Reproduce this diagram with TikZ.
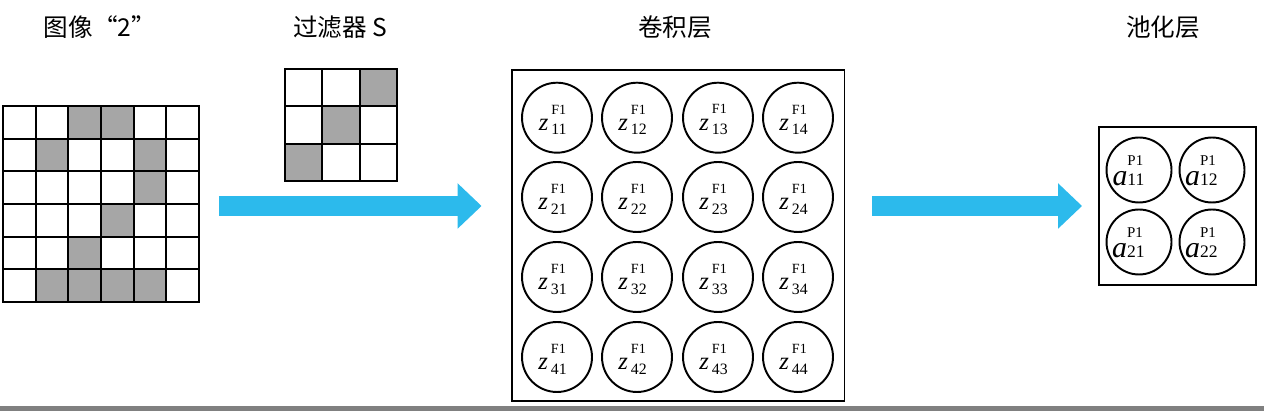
\documentclass[tikz,border=0pt]{standalone}
\usepackage{fontspec}
\setmainfont{Liberation Serif}
\newfontfamily\cjk{Noto Sans CJK SC}
\usetikzlibrary{arrows.meta,positioning,calc}
\definecolor{muitenxanh}{RGB}{44,186,236}
\definecolor{oxam}{RGB}{166,166,166}
\definecolor{vachxam}{RGB}{128,128,128}
\newcommand{\zF}[1]{\rule{0pt}{17.2pt}{\fontsize{14}{14}\selectfont\itshape z}\,\rlap{\raisebox{9.5pt}{\fontsize{8}{8}\selectfont F1}}\raisebox{-2.4pt}{\fontsize{9}{9}\selectfont #1}\hspace*{5pt}}
\newcommand{\aP}[1]{\rule{0pt}{18pt}{\fontsize{17}{17}\selectfont\itshape a}\rlap{\raisebox{11.3pt}{\fontsize{8.5}{8.5}\selectfont P1}}{\fontsize{10}{10}\selectfont #1}\hspace*{12pt}}

\begin{document}
\begin{tikzpicture}[x=0.02cm, y=-0.02cm,
		tieude/.style={font=\cjk\fontsize{14}{14}\selectfont},
		khung/.style={draw, line width=1.1pt, inner sep=0pt},
		vach/.style={line width=1.1pt},
		oze/.style={circle, draw, line width=1.1pt, minimum size=1.4cm, inner sep=0pt},
		oa/.style={circle, draw, line width=1.1pt, minimum size=1.3cm, inner sep=0pt},
		muiten/.style={muitenxanh, line width=0.4cm, -{Triangle[length=0.48cm,width=0.88cm]}}]
		\useasboundingbox (0,0) rectangle (1264,411);
		% anh "2"
		\foreach \c/\r in {2/0,3/0,1/1,4/1,4/2,3/3,2/4,1/5,2/5,3/5,4/5}
		\fill[oxam] ({3+\c*32.667},{106+\r*32.667}) rectangle ++(32.667,32.667);
		\foreach \i in {1,...,5}
		{
			\draw[vach] ({3+\i*32.667},106) -- ++(0,196);
			\draw[vach] (3,{106+\i*32.667}) -- ++(196,0);
		}
		\node[khung, minimum size=3.92cm] (anh) at (101,204) {};
		% bo loc S
		\foreach \c/\r in {2/0,1/1,0/2}
		\fill[oxam] ({285+\c*37.333},{69+\r*37.333}) rectangle ++(37.333,37.333);
		\foreach \i in {1,2}
		{
			\draw[vach] ({285+\i*37.333},69) -- ++(0,112);
			\draw[vach] (285,{69+\i*37.333}) -- ++(112,0);
		}
		\node[khung, minimum size=2.24cm] (boloc) at (341,125) {};
		% lop tich chap
		\node[khung, minimum width=6.66cm, minimum height=6.62cm] (tichchap) at (678,235.5) {};
		\foreach \i/\y in {1/117.7,2/197,3/277,4/357}
		\foreach \j/\x in {1/557,2/637,3/718,4/798}
		\node[oze] (z\i\j) at (\x,\y) {\zF{\i\j}};
		% lop gop
		\node[khung, minimum width=3.14cm, minimum height=3.16cm] (gop) at (1177.5,206) {};
		\foreach \i/\y in {1/170,2/242}
		\foreach \j/\x in {1/1139,2/1212}
		\node[oa] (a\i\j) at (\x,\y) {\aP{\i\j}};
		% tieu de
		\node[tieude] (t1) at (100,27) {图像“2”};
		\node[tieude] (t2) at (340,27) {过滤器 S};
		\node[tieude] (t3) at (675,27) {卷积层};
		\node[tieude] (t4) at (1163,27) {池化层};
		% mui ten
		\coordinate (m1) at ($(anh.east)+(19,2)$);
		\draw[muiten, shorten >=0.58cm] (m1) -- (m1 -| tichchap.west);
		\coordinate (m2) at ($(tichchap.east |- gop.west)+(27,0)$);
		\draw[muiten, shorten >=0.32cm] (m2) -- (gop.west);
		\fill[vachxam] (0,406) rectangle (1264,411);
	\end{tikzpicture}
\end{document}
